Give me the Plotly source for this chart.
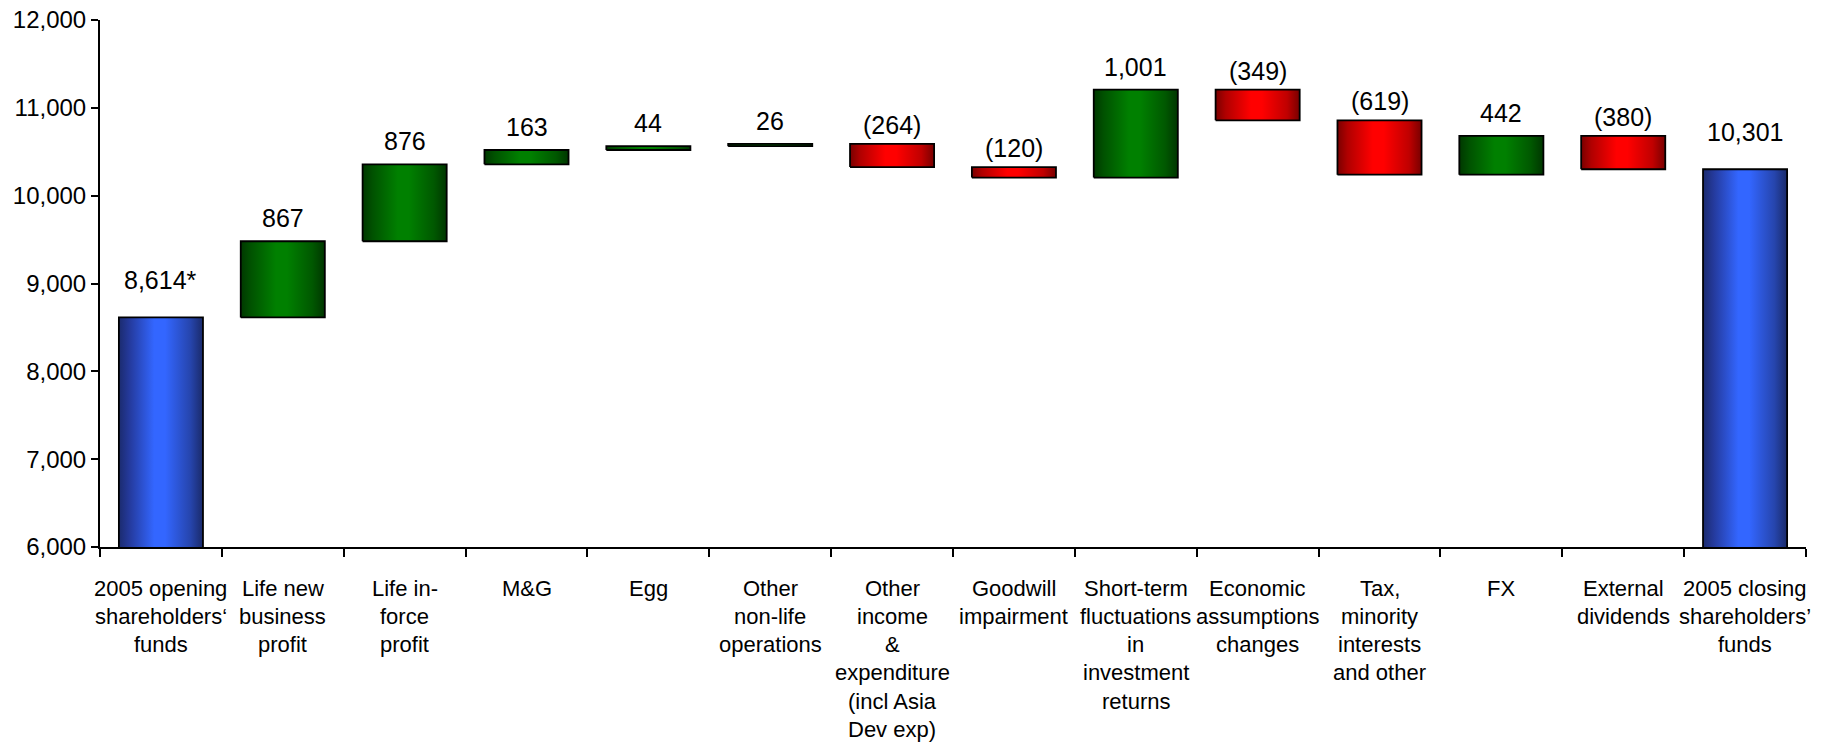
import plotly.graph_objects as go

# Shareholders' funds bridge, 2005 opening to 2005 closing (£m)
categories = [
    "2005 opening<br>shareholders‘<br>funds",
    "Life new<br>business<br>profit",
    "Life in-<br>force<br>profit",
    "M&G",
    "Egg",
    "Other<br>non-life<br>operations",
    "Other<br>income<br>&<br>expenditure<br>(incl Asia<br>Dev exp)",
    "Goodwill<br>impairment",
    "Short-term<br>fluctuations<br>in<br>investment<br>returns",
    "Economic<br>assumptions<br>changes",
    "Tax,<br>minority<br>interests<br>and other",
    "FX",
    "External<br>dividends",
    "2005 closing<br>shareholders’<br>funds",
]
values = [8614, 867, 876, 163, 44, 26, -264, -120, 1001, -349, -619, 442, -380, 10301]
kinds = ["total"] + ["delta"] * 12 + ["total"]
value_labels = ["8,614*", "867", "876", "163", "44", "26", "(264)", "(120)",
                "1,001", "(349)", "(619)", "442", "(380)", "10,301"]
y_ticks = [6000, 7000, 8000, 9000, 10000, 11000, 12000]

FONT = "Liberation Sans, Arial, sans-serif"
HALF_W = 0.345
Y_MIN, Y_MAX = 6000, 12000
LABEL_TOP = 41      # px from x axis to centre of first label line
LINE_STEP = 28.3    # px between label lines

GRADIENTS = {
    "total": [[0, "#1b2b6e"], [0.12, "#24399a"], [0.42, "#3366ff"], [0.55, "#3366ff"],
              [0.85, "#2645ad"], [1, "#1a2a6a"]],
    "up": [[0, "#003800"], [0.12, "#005200"], [0.42, "#008000"], [0.55, "#008000"],
           [0.85, "#005800"], [1, "#003600"]],
    "down": [[0, "#7a0000"], [0.12, "#b00000"], [0.42, "#ff0000"], [0.55, "#ff0000"],
             [0.85, "#c00000"], [1, "#780000"]],
}

fig = go.Figure()
running = 0
tops = []
for i, (v, k) in enumerate(zip(values, kinds)):
    if k == "total":
        lo, hi = 0, v
        running = v
        style = "total"
    else:
        start = running
        running = running + v
        lo, hi = min(start, running), max(start, running)
        style = "up" if v >= 0 else "down"
    tops.append(hi)
    xs = [i - HALF_W, i + HALF_W, i + HALF_W, i - HALF_W, i - HALF_W]
    ys = [lo, lo, hi, hi, lo]
    fig.add_trace(go.Scatter(
        x=xs, y=ys, mode="lines", fill="toself",
        fillgradient=dict(type="horizontal", colorscale=GRADIENTS[style]),
        line=dict(color="#000000", width=1.8),
        hoverinfo="skip", showlegend=False,
    ))

annotations = []
for i, (txt, top, k, v) in enumerate(zip(value_labels, tops, kinds, values)):
    if k == "total":
        shift = 37
    elif v < 0:
        shift = 19
    else:
        shift = 23
    annotations.append(dict(
        x=i, y=top, xref="x", yref="y", text=txt, showarrow=False,
        yanchor="middle", yshift=shift,
        font=dict(family=FONT, size=25, color="#000000"),
    ))

# category labels, one annotation per line for tight line spacing
for i, cat in enumerate(categories):
    for j, line in enumerate(cat.split("<br>")):
        annotations.append(dict(
            x=i, y=0, xref="x", yref="paper", text=line, showarrow=False,
            yanchor="middle", yshift=-(LABEL_TOP + j * LINE_STEP),
            font=dict(family=FONT, size=22, color="#000000"),
        ))

fig.update_layout(
    width=1845, height=746,
    margin=dict(l=100, r=39, t=20, b=199, autoexpand=False),
    plot_bgcolor="#ffffff", paper_bgcolor="#ffffff",
    annotations=annotations,
    xaxis=dict(
        range=[-0.5, len(categories) - 0.5],
        tickvals=[i - 0.5 for i in range(len(categories) + 1)],
        showticklabels=False, ticks="outside", ticklen=8, tickwidth=2,
        tickcolor="#000000", showline=True, linecolor="#000000", linewidth=2,
        showgrid=False, zeroline=False, fixedrange=True, automargin=False,
    ),
    yaxis=dict(
        range=[Y_MIN, Y_MAX], tickvals=y_ticks, tickformat=",",
        ticks="outside", ticklen=7, tickwidth=2, tickcolor="#000000",
        showline=True, linecolor="#000000", linewidth=2,
        showgrid=False, zeroline=False, fixedrange=True, automargin=False,
        tickfont=dict(family=FONT, size=24, color="#000000"),
    ),
)

fig.write_html("out.html")
